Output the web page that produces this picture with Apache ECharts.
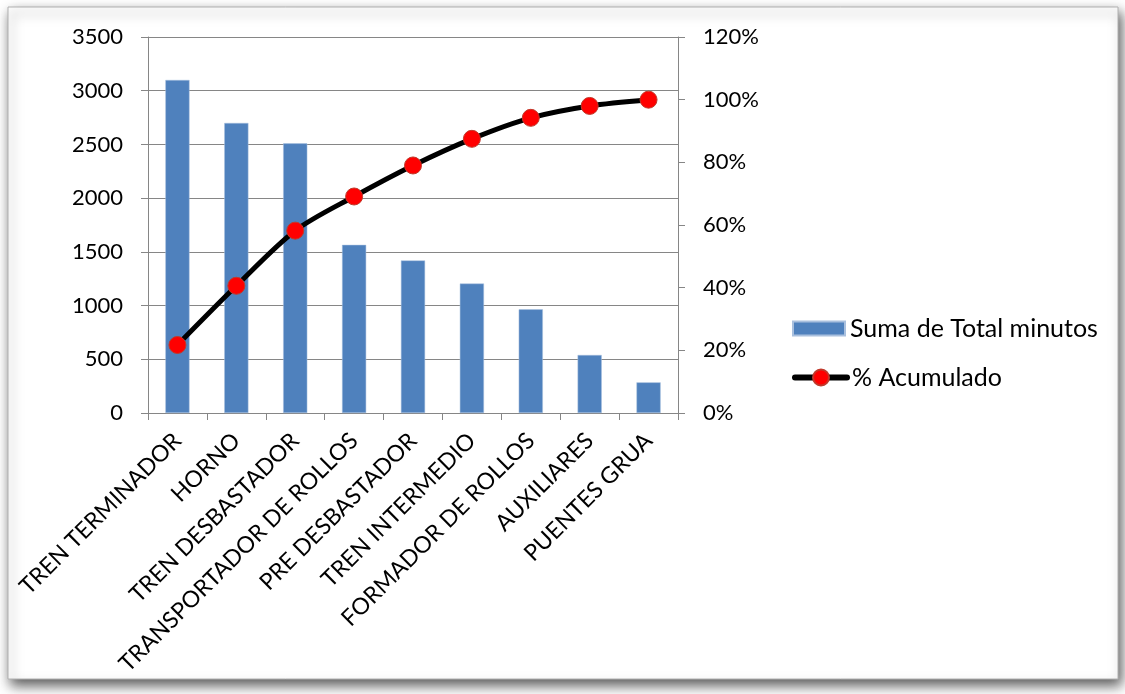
<!DOCTYPE html>
<html>
<head>
<meta charset="utf-8">
<script src="https://cdn.jsdelivr.net/npm/echarts@6/dist/echarts.min.js"></script>
<style>
html,body{margin:0;padding:0;background:#fff;}
#Charts1{width:1125px;height:694px;}
</style>
</head>
<body>
<div id="Charts1"></div>
<script>
// datos
var categorias = ['TREN TERMINADOR','HORNO','TREN DESBASTADOR','TRANSPORTADOR DE ROLLOS','PRE DESBASTADOR','TREN INTERMEDIO','FORMADOR DE ROLLOS','AUXILIARES','PUENTES GRUA'];
var minutos = [3100, 2700, 2510, 1565, 1420, 1205, 965, 540, 285];
var acumulado = [21.7, 40.6, 58.2, 69.1, 79.0, 87.5, 94.2, 98.0, 100];
var ticksIzq = [0, 3500, 500];   // min, max, intervalo
var ticksDer = [0, 120, 20];

var fuente = 'Lato';
var gris = '#868686';

var myChart = echarts.init(document.getElementById('Charts1'));
var option = {
	backgroundColor: '#fff',
	textStyle: {fontFamily: fuente, color: '#000'},
	animation: false,
	graphic: [
		{ // marco con sombra
			type: 'rect',
			z: -100,
			shape: {x: 8, y: 7, width: 1110, height: 672},
			style: {
				fill: '#fff', stroke: '#b0b0b0', lineWidth: 1,
				shadowBlur: 12, shadowOffsetX: 3, shadowOffsetY: 6, shadowColor: 'rgba(0,0,0,0.65)'
			}
		}
	],
	grid: {left: 148, right: 447, top: 37, bottom: 281, containLabel: false},
	legend: [
		{ // barras
			left: 787,
			top: 311,
			itemWidth: 52,
			itemHeight: 14,
			textStyle: {fontFamily: fuente, fontSize: 25, color: '#000'},
			data: [{name: 'Suma de Total minutos', icon: 'rect'}]
		},
		{ // linea
			left: 787,
			top: 360,
			itemWidth: 52,
			itemHeight: 20,
			textStyle: {fontFamily: fuente, fontSize: 25, color: '#000'},
			data: [{name: '% Acumulado', lineStyle: {width: 6, color: '#000', cap: 'round'}}]
		}
	],
	xAxis: [{
		type: 'category',
		data: categorias,
		boundaryGap: true,
		axisLine: {lineStyle: {color: gris, width: 1}},
		axisTick: {show: true, alignWithLabel: false, length: 7, lineStyle: {color: gris}},
		axisLabel: {rotate: 45, interval: 0, margin: 24, fontFamily: fuente, fontSize: 23, color: '#000'}
	}],
	yAxis: [
		{
			type: 'value',
			min: ticksIzq[0], max: ticksIzq[1], interval: ticksIzq[2],
			axisLine: {show: true, lineStyle: {color: gris}},
			axisTick: {show: true, length: 7, lineStyle: {color: gris}},
			axisLabel: {margin: 25, fontFamily: fuente, fontSize: 22, color: '#000', formatter: function (v) { return String(v); }},
			splitLine: {show: true, lineStyle: {color: gris, width: 1}}
		},
		{
			type: 'value',
			position: 'right',
			min: ticksDer[0], max: ticksDer[1], interval: ticksDer[2],
			axisLine: {show: true, lineStyle: {color: gris}},
			axisTick: {show: true, length: 7, lineStyle: {color: gris}},
			axisLabel: {margin: 25, fontFamily: fuente, fontSize: 22, color: '#000', formatter: '{value}%'},
			splitLine: {show: false}
		}
	],
	series: [
		{
			name: 'Suma de Total minutos',
			type: 'bar',
			data: minutos,
			barWidth: '41%',
			itemStyle: {color: '#4F81BD', borderColor: '#a9c0de', borderWidth: 0.5}
		},
		{
			name: '% Acumulado',
			type: 'line',
			yAxisIndex: 1,
			data: acumulado,
			smooth: 0.3,
			symbol: 'circle',
			symbolSize: 17,
			lineStyle: {color: '#000', width: 5},
			itemStyle: {color: '#ff0000', borderColor: '#c0392b', borderWidth: 1}
		}
	]
};
myChart.setOption(option);
</script>
</body>
</html>
